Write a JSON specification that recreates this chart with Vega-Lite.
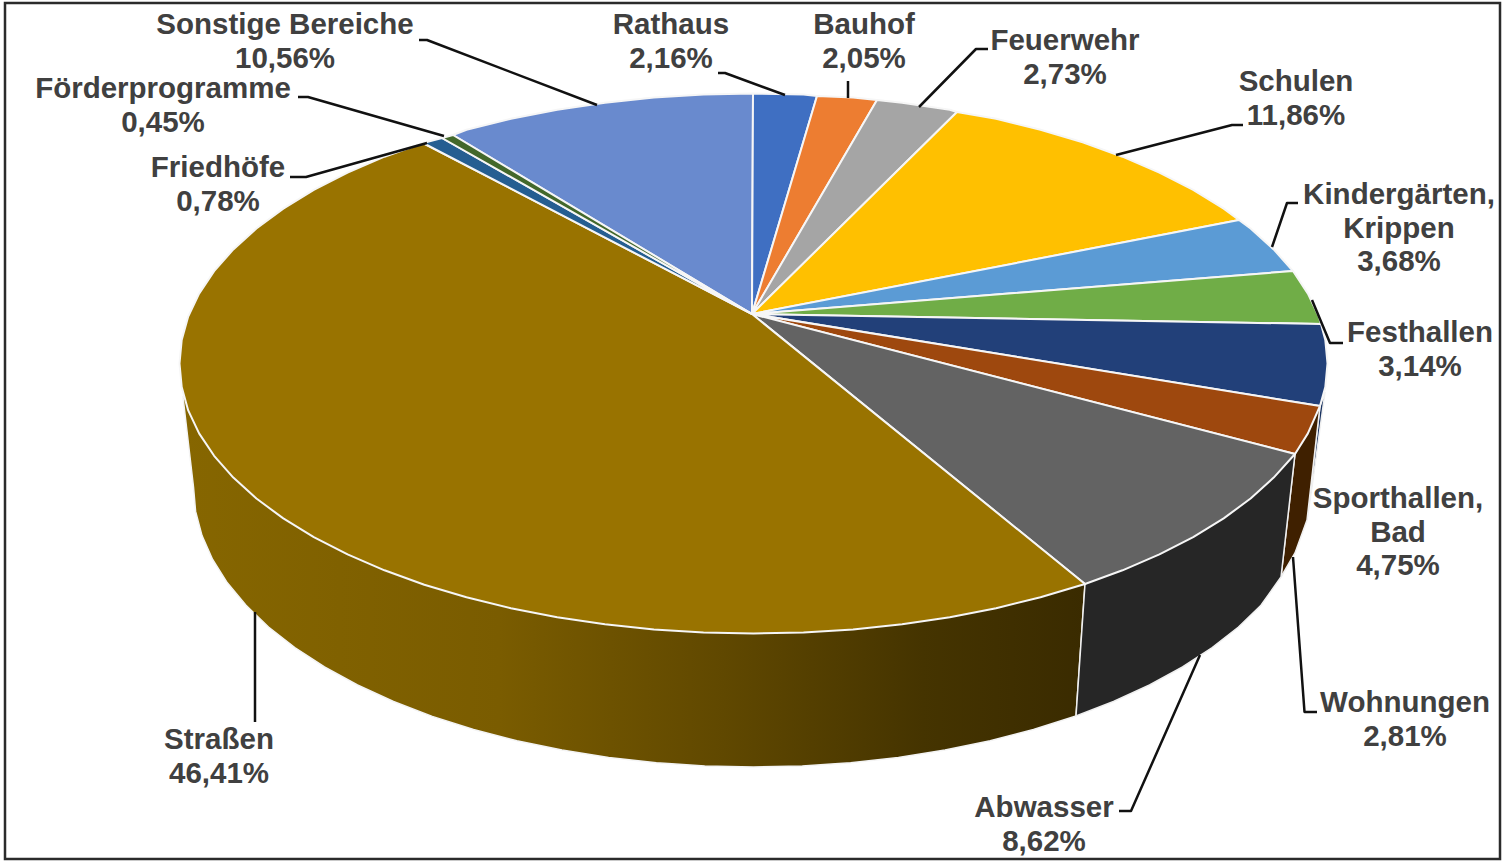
{
"$schema":"https://vega.github.io/schema/vega-lite/v6.json",
"width":1503,"height":861,"autosize":{"type":"none"},"padding":0,
"background":"white","view":{"stroke":null},
"resolve":{"scale":{"color":"independent"}},
"datasets":{
"frame":[{"x":5,"x2":1500,"y":3,"y2":859}],
"side":[
{"s":"Straßen","i":0,"x":1085,"y":584},{"s":"Straßen","i":1,"x":700,"y":480},{"s":"Straßen","i":2,"x":183,"y":397},{"s":"Straßen","i":3,"x":193.5,"y":487},{"s":"Straßen","i":4,"x":195.6,"y":511.4},{"s":"Straßen","i":5,"x":202,"y":535.6},{"s":"Straßen","i":6,"x":212.6,"y":559.5},{"s":"Straßen","i":7,"x":227.3,"y":582.8},{"s":"Straßen","i":8,"x":246,"y":605.3},{"s":"Straßen","i":9,"x":268.5,"y":627},{"s":"Straßen","i":10,"x":294.8,"y":647.6},{"s":"Straßen","i":11,"x":324.5,"y":667},{"s":"Straßen","i":12,"x":357.5,"y":685},{"s":"Straßen","i":13,"x":393.5,"y":701.5},{"s":"Straßen","i":14,"x":432.3,"y":716.4},{"s":"Straßen","i":15,"x":473.5,"y":729.5},{"s":"Straßen","i":16,"x":516.8,"y":740.8},{"s":"Straßen","i":17,"x":562,"y":750.1},{"s":"Straßen","i":18,"x":608.6,"y":757.5},{"s":"Straßen","i":19,"x":656.3,"y":762.7},{"s":"Straßen","i":20,"x":704.7,"y":765.9},{"s":"Straßen","i":21,"x":753.5,"y":767},{"s":"Straßen","i":22,"x":802.3,"y":765.9},{"s":"Straßen","i":23,"x":850.7,"y":762.7},{"s":"Straßen","i":24,"x":898.4,"y":757.5},{"s":"Straßen","i":25,"x":945,"y":750.1},{"s":"Straßen","i":26,"x":990.2,"y":740.8},{"s":"Straßen","i":27,"x":1033.5,"y":729.5},{"s":"Straßen","i":28,"x":1076,"y":716},{"s":"Straßen","i":29,"x":1085,"y":584}
],
"sideDark":[
{"s":"Sporthallen, Bad","i":0,"x":1325,"y":392},{"s":"Sporthallen, Bad","i":1,"x":1320,"y":406},{"s":"Sporthallen, Bad","i":2,"x":1307,"y":520},{"s":"Sporthallen, Bad","i":3,"x":1312,"y":487},{"s":"Sporthallen, Bad","i":4,"x":1325,"y":392},
{"s":"Wohnungen","i":0,"x":1320,"y":406},{"s":"Wohnungen","i":1,"x":1295,"y":454},{"s":"Wohnungen","i":2,"x":1281,"y":577},{"s":"Wohnungen","i":3,"x":1295,"y":553},{"s":"Wohnungen","i":4,"x":1307,"y":520},{"s":"Wohnungen","i":5,"x":1320,"y":406},
{"s":"Abwasser","i":0,"x":1295,"y":454},{"s":"Abwasser","i":1,"x":1085,"y":584},{"s":"Abwasser","i":2,"x":1076,"y":716},{"s":"Abwasser","i":3,"x":1113.5,"y":701.5},{"s":"Abwasser","i":4,"x":1149.5,"y":685},{"s":"Abwasser","i":5,"x":1182.5,"y":667},{"s":"Abwasser","i":6,"x":1212.2,"y":647.6},{"s":"Abwasser","i":7,"x":1238.5,"y":627},{"s":"Abwasser","i":8,"x":1261,"y":605.3},{"s":"Abwasser","i":9,"x":1281,"y":577},{"s":"Abwasser","i":10,"x":1295,"y":454}
],
"top":[
{"s":"Sonstige Bereiche","i":0,"x":752,"y":314},{"s":"Sonstige Bereiche","i":1,"x":453,"y":135},{"s":"Sonstige Bereiche","i":2,"x":466.5,"y":129.7},{"s":"Sonstige Bereiche","i":3,"x":510.9,"y":118.8},{"s":"Sonstige Bereiche","i":4,"x":557.2,"y":109.8},{"s":"Sonstige Bereiche","i":5,"x":604.9,"y":102.7},{"s":"Sonstige Bereiche","i":6,"x":653.9,"y":97.6},{"s":"Sonstige Bereiche","i":7,"x":703.5,"y":94.5},{"s":"Sonstige Bereiche","i":8,"x":753,"y":93.5},{"s":"Sonstige Bereiche","i":9,"x":752,"y":314},
{"s":"Rathaus","i":0,"x":752,"y":314},{"s":"Rathaus","i":1,"x":753,"y":93.5},{"s":"Rathaus","i":2,"x":803.5,"y":94.5},{"s":"Rathaus","i":3,"x":817,"y":96},{"s":"Rathaus","i":4,"x":752,"y":314},
{"s":"Bauhof","i":0,"x":752,"y":314},{"s":"Bauhof","i":1,"x":817,"y":96},{"s":"Bauhof","i":2,"x":853.1,"y":97.6},{"s":"Bauhof","i":3,"x":877,"y":100},{"s":"Bauhof","i":4,"x":752,"y":314},
{"s":"Feuerwehr","i":0,"x":752,"y":314},{"s":"Feuerwehr","i":1,"x":877,"y":100},{"s":"Feuerwehr","i":2,"x":902.1,"y":102.7},{"s":"Feuerwehr","i":3,"x":949.8,"y":109.8},{"s":"Feuerwehr","i":4,"x":957,"y":112},{"s":"Feuerwehr","i":5,"x":752,"y":314},
{"s":"Schulen","i":0,"x":752,"y":314},{"s":"Schulen","i":1,"x":957,"y":112},{"s":"Schulen","i":2,"x":996.1,"y":118.8},{"s":"Schulen","i":3,"x":1040.5,"y":129.7},{"s":"Schulen","i":4,"x":1082.7,"y":142.3},{"s":"Schulen","i":5,"x":1122.5,"y":156.7},{"s":"Schulen","i":6,"x":1159.4,"y":172.6},{"s":"Schulen","i":7,"x":1193.2,"y":189.9},{"s":"Schulen","i":8,"x":1223.7,"y":208.6},{"s":"Schulen","i":9,"x":1239,"y":220},{"s":"Schulen","i":10,"x":752,"y":314},
{"s":"Kindergärten, Krippen","i":0,"x":752,"y":314},{"s":"Kindergärten, Krippen","i":1,"x":1239,"y":220},{"s":"Kindergärten, Krippen","i":2,"x":1250.6,"y":228.5},{"s":"Kindergärten, Krippen","i":3,"x":1273.7,"y":249.4},{"s":"Kindergärten, Krippen","i":4,"x":1293,"y":271},{"s":"Kindergärten, Krippen","i":5,"x":752,"y":314},
{"s":"Festhallen","i":0,"x":752,"y":314},{"s":"Festhallen","i":1,"x":1293,"y":271},{"s":"Festhallen","i":2,"x":1307.9,"y":293.6},{"s":"Festhallen","i":3,"x":1318.8,"y":316.6},{"s":"Festhallen","i":4,"x":1321,"y":324},{"s":"Festhallen","i":5,"x":752,"y":314},
{"s":"Sporthallen, Bad","i":0,"x":752,"y":314},{"s":"Sporthallen, Bad","i":1,"x":1321,"y":324},{"s":"Sporthallen, Bad","i":2,"x":1325.3,"y":340},{"s":"Sporthallen, Bad","i":3,"x":1327.5,"y":363.5},{"s":"Sporthallen, Bad","i":4,"x":1325.3,"y":387},{"s":"Sporthallen, Bad","i":5,"x":1320,"y":406},{"s":"Sporthallen, Bad","i":6,"x":752,"y":314},
{"s":"Wohnungen","i":0,"x":752,"y":314},{"s":"Wohnungen","i":1,"x":1320,"y":406},{"s":"Wohnungen","i":2,"x":1307.9,"y":433.4},{"s":"Wohnungen","i":3,"x":1295,"y":454},{"s":"Wohnungen","i":4,"x":752,"y":314},
{"s":"Abwasser","i":0,"x":752,"y":314},{"s":"Abwasser","i":1,"x":1295,"y":454},{"s":"Abwasser","i":2,"x":1273.7,"y":477.6},{"s":"Abwasser","i":3,"x":1250.6,"y":498.5},{"s":"Abwasser","i":4,"x":1223.7,"y":518.4},{"s":"Abwasser","i":5,"x":1193.2,"y":537.1},{"s":"Abwasser","i":6,"x":1159.4,"y":554.4},{"s":"Abwasser","i":7,"x":1122.5,"y":570.3},{"s":"Abwasser","i":8,"x":1085,"y":584},{"s":"Abwasser","i":9,"x":752,"y":314},
{"s":"Straßen","i":0,"x":752,"y":314},{"s":"Straßen","i":1,"x":1085,"y":584},{"s":"Straßen","i":2,"x":1040.5,"y":597.3},{"s":"Straßen","i":3,"x":996.1,"y":608.2},{"s":"Straßen","i":4,"x":949.8,"y":617.2},{"s":"Straßen","i":5,"x":902.1,"y":624.3},{"s":"Straßen","i":6,"x":853.1,"y":629.4},{"s":"Straßen","i":7,"x":803.5,"y":632.5},{"s":"Straßen","i":8,"x":753.5,"y":633.5},{"s":"Straßen","i":9,"x":703.5,"y":632.5},{"s":"Straßen","i":10,"x":653.9,"y":629.4},{"s":"Straßen","i":11,"x":604.9,"y":624.3},{"s":"Straßen","i":12,"x":557.2,"y":617.2},{"s":"Straßen","i":13,"x":510.9,"y":608.2},{"s":"Straßen","i":14,"x":466.5,"y":597.3},{"s":"Straßen","i":15,"x":424.3,"y":584.7},{"s":"Straßen","i":16,"x":384.5,"y":570.3},{"s":"Straßen","i":17,"x":347.6,"y":554.4},{"s":"Straßen","i":18,"x":313.8,"y":537.1},{"s":"Straßen","i":19,"x":283.3,"y":518.4},{"s":"Straßen","i":20,"x":256.4,"y":498.5},{"s":"Straßen","i":21,"x":233.3,"y":477.6},{"s":"Straßen","i":22,"x":214.1,"y":455.8},{"s":"Straßen","i":23,"x":199.1,"y":433.4},{"s":"Straßen","i":24,"x":188.2,"y":410.4},{"s":"Straßen","i":25,"x":181.7,"y":387},{"s":"Straßen","i":26,"x":179.5,"y":363.5},{"s":"Straßen","i":27,"x":181.7,"y":340},{"s":"Straßen","i":28,"x":188.2,"y":316.6},{"s":"Straßen","i":29,"x":199.1,"y":293.6},{"s":"Straßen","i":30,"x":214.1,"y":271.2},{"s":"Straßen","i":31,"x":233.3,"y":249.4},{"s":"Straßen","i":32,"x":256.4,"y":228.5},{"s":"Straßen","i":33,"x":283.3,"y":208.6},{"s":"Straßen","i":34,"x":313.8,"y":189.9},{"s":"Straßen","i":35,"x":347.6,"y":172.6},{"s":"Straßen","i":36,"x":384.5,"y":156.7},{"s":"Straßen","i":37,"x":423,"y":143},{"s":"Straßen","i":38,"x":752,"y":314},
{"s":"Friedhöfe","i":0,"x":752,"y":314},{"s":"Friedhöfe","i":1,"x":423,"y":143},{"s":"Friedhöfe","i":2,"x":442,"y":138},{"s":"Friedhöfe","i":3,"x":752,"y":314},
{"s":"Förderprogramme","i":0,"x":752,"y":314},{"s":"Förderprogramme","i":1,"x":442,"y":138},{"s":"Förderprogramme","i":2,"x":453,"y":135},{"s":"Förderprogramme","i":3,"x":752,"y":314}
],
"leaders":[
{"s":"Sonstige Bereiche","i":0,"x":419,"y":40},{"s":"Sonstige Bereiche","i":1,"x":427,"y":40},{"s":"Sonstige Bereiche","i":2,"x":597,"y":105},
{"s":"Rathaus","i":0,"x":718,"y":73},{"s":"Rathaus","i":1,"x":725,"y":73},{"s":"Rathaus","i":2,"x":785,"y":95},
{"s":"Bauhof","i":0,"x":848,"y":81},{"s":"Bauhof","i":1,"x":848,"y":98},
{"s":"Feuerwehr","i":0,"x":988,"y":49},{"s":"Feuerwehr","i":1,"x":976,"y":49},{"s":"Feuerwehr","i":2,"x":919,"y":107},
{"s":"Schulen","i":0,"x":1243,"y":125},{"s":"Schulen","i":1,"x":1232,"y":125},{"s":"Schulen","i":2,"x":1116,"y":155},
{"s":"Kindergärten, Krippen","i":0,"x":1298,"y":203},{"s":"Kindergärten, Krippen","i":1,"x":1287,"y":203},{"s":"Kindergärten, Krippen","i":2,"x":1272,"y":247},
{"s":"Festhallen","i":0,"x":1312,"y":300},{"s":"Festhallen","i":1,"x":1330,"y":343},{"s":"Festhallen","i":2,"x":1343,"y":343},
{"s":"Wohnungen","i":0,"x":1293,"y":557},{"s":"Wohnungen","i":1,"x":1304.5,"y":712},{"s":"Wohnungen","i":2,"x":1317,"y":712},
{"s":"Abwasser","i":0,"x":1200,"y":655},{"s":"Abwasser","i":1,"x":1131,"y":811},{"s":"Abwasser","i":2,"x":1119,"y":811},
{"s":"Straßen","i":0,"x":255,"y":612},{"s":"Straßen","i":1,"x":255,"y":722},
{"s":"Förderprogramme","i":0,"x":298,"y":97},{"s":"Förderprogramme","i":1,"x":308,"y":97},{"s":"Förderprogramme","i":2,"x":444,"y":136},
{"s":"Friedhöfe","i":0,"x":290,"y":177},{"s":"Friedhöfe","i":1,"x":306,"y":177},{"s":"Friedhöfe","i":2,"x":427,"y":143}
],
"labels":[
{"s":"Sonstige Bereiche","anteil":10.56,"text":"Sonstige Bereiche\n10,56%","x":285,"y":25},
{"s":"Rathaus","anteil":2.16,"text":"Rathaus\n2,16%","x":671,"y":25},
{"s":"Bauhof","anteil":2.05,"text":"Bauhof\n2,05%","x":864,"y":25},
{"s":"Feuerwehr","anteil":2.73,"text":"Feuerwehr\n2,73%","x":1065,"y":41},
{"s":"Schulen","anteil":11.86,"text":"Schulen\n11,86%","x":1296,"y":82},
{"s":"Kindergärten, Krippen","anteil":3.68,"text":"Kindergärten,\nKrippen\n3,68%","x":1399,"y":195},
{"s":"Festhallen","anteil":3.14,"text":"Festhallen\n3,14%","x":1420,"y":333},
{"s":"Sporthallen, Bad","anteil":4.75,"text":"Sporthallen,\nBad\n4,75%","x":1398,"y":499},
{"s":"Wohnungen","anteil":2.81,"text":"Wohnungen\n2,81%","x":1405,"y":703},
{"s":"Abwasser","anteil":8.62,"text":"Abwasser\n8,62%","x":1044,"y":808},
{"s":"Straßen","anteil":46.41,"text":"Straßen\n46,41%","x":219,"y":740},
{"s":"Förderprogramme","anteil":0.45,"text":"Förderprogramme\n0,45%","x":163,"y":89},
{"s":"Friedhöfe","anteil":0.78,"text":"Friedhöfe\n0,78%","x":218,"y":168}
]
},
"encoding":{
"x":{"field":"x","type":"quantitative","axis":null,"scale":{"domain":[0,1503],"nice":false,"zero":false}},
"y":{"field":"y","type":"quantitative","axis":null,"scale":{"domain":[0,861],"reverse":true,"nice":false,"zero":false}}
},
"layer":[
{"data":{"name":"frame"},"mark":{"type":"rect","fill":"white","stroke":"#2b2b2b","strokeWidth":2.5},"encoding":{"x2":{"field":"x2"},"y2":{"field":"y2"}}},
{"data":{"name":"side"},"mark":{"type":"line","filled":true,"stroke":"#f4f4f4","strokeWidth":1.5,"fill":{"gradient":"linear","x1":0,"y1":0,"x2":1,"y2":0,"stops":[{"offset":0,"color":"#866600"},{"offset":0.35,"color":"#7a5c00"},{"offset":0.6,"color":"#604800"},{"offset":0.82,"color":"#453400"},{"offset":1,"color":"#3a2b00"}]}},"encoding":{"detail":{"field":"s"},"order":{"field":"i","type":"quantitative"}}},
{"data":{"name":"sideDark"},"mark":{"type":"line","filled":true,"stroke":"#f0f0f0","strokeWidth":1.5},"encoding":{"color":{"field":"s","type":"nominal","legend":null,"scale":{"domain":["Sporthallen, Bad","Wohnungen","Abwasser"],"range":["#1a3360","#3f2000","#262626"]}},"order":{"field":"i","type":"quantitative"}}},
{"data":{"name":"top"},"mark":{"type":"line","filled":true,"stroke":"#f6f6f6","strokeWidth":2,"strokeJoin":"round"},"encoding":{"color":{"field":"s","type":"nominal","legend":null,"scale":{"domain":["Sonstige Bereiche","Rathaus","Bauhof","Feuerwehr","Schulen","Kindergärten, Krippen","Festhallen","Sporthallen, Bad","Wohnungen","Abwasser","Straßen","Friedhöfe","Förderprogramme"],"range":["#698ace","#3f6fc2","#ed7d31","#a5a5a5","#ffc000","#5b9bd5","#70ad47","#224079","#9e480e","#636363","#997300","#255e91","#43682b"]}},"order":{"field":"i","type":"quantitative"}}},
{"data":{"name":"leaders"},"mark":{"type":"line","stroke":"#111111","strokeWidth":2.5,"strokeJoin":"round"},"encoding":{"detail":{"field":"s"},"order":{"field":"i","type":"quantitative"}}},
{"data":{"name":"labels"},"mark":{"type":"text","font":"Liberation Sans","fontWeight":"bold","fontSize":29.5,"color":"#404040","lineBreak":"\n","lineHeight":33.5,"align":"center","baseline":"middle"},"encoding":{"text":{"field":"text"}}}
]
}
